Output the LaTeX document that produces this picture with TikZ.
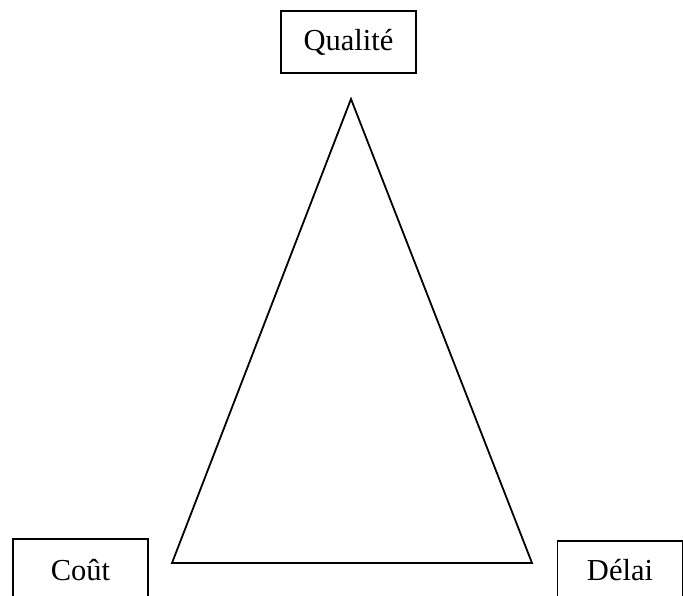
\documentclass[tikz,border=0pt]{standalone}
\usepackage{fontspec}
\setmainfont{Liberation Serif}
\usetikzlibrary{positioning}

\begin{document}
\begin{tikzpicture}[
  x=1pt, y=1pt,
  box/.style={draw, line width=1.4pt, font=\fontsize{30.5}{36}\selectfont,
              minimum width=135pt, minimum height=62pt, inner sep=0pt},
  edge/.style={line width=1.8pt, line join=miter},
]
\useasboundingbox (0,0) rectangle (683,-596);
\clip (0,0) rectangle (683,-596);

% --- the three corners ---
\node[box] (quality) at (348.5,-42) {Qualité};
\node[box] (cost) at (80.5,-570) {Coût};
\node[box, minimum width=125pt, minimum height=58pt] (delay) at (620,-570) {Délai};

% --- triangle ---
\coordinate (apex) at (351,-99);
\coordinate (left) at (172,-563);
\coordinate (right) at (532,-563);
\draw[edge] (apex) -- (left) -- (right) -- cycle;

\end{tikzpicture}
\end{document}
